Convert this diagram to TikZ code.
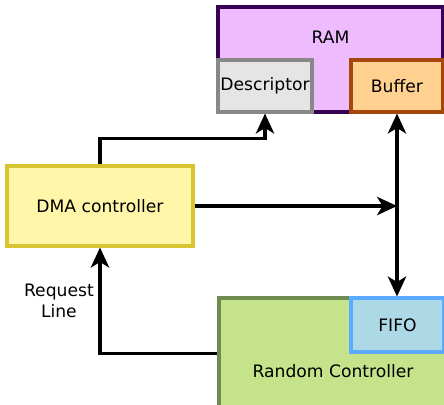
\documentclass[tikz,border=0pt]{standalone}
\usepackage{fontspec}
\setmainfont{DejaVu Sans}
\usetikzlibrary{arrows.meta}

\definecolor{ramfill}{RGB}{238,187,255}
\definecolor{ramdraw}{RGB}{55,0,85}
\definecolor{descfill}{RGB}{229,229,229}
\definecolor{descdraw}{RGB}{136,136,136}
\definecolor{buffill}{RGB}{255,209,145}
\definecolor{bufdraw}{RGB}{165,70,10}
\definecolor{dmafill}{RGB}{255,246,170}
\definecolor{dmadraw}{RGB}{215,198,50}
\definecolor{rcfill}{RGB}{197,227,138}
\definecolor{rcdraw}{RGB}{110,140,80}
\definecolor{fifofill}{RGB}{173,216,230}
\definecolor{fifodraw}{RGB}{90,170,255}

\begin{document}
\begin{tikzpicture}[x=0.025cm,y=-0.025cm,>={Stealth[length=5mm,width=4.6mm,inset=1.4mm]},
  font=\fontsize{12.2}{15}\selectfont,
  blk/.style={draw,line width=2.2pt,inner sep=0pt},
  link/.style={line width=2.2pt}]
\clip (0,0) rectangle (444,404);
\node[blk,draw=ramdraw,fill=ramfill,minimum width=5.625cm,minimum height=2.625cm,label={[anchor=center,yshift=-0.8cm]north:RAM}] (ram) at (330.5,59.5) {};
\node[blk,draw=descdraw,fill=descfill,minimum width=2.35cm,minimum height=1.3cm] (desc) at (265,86) {Descriptor};
\node[blk,draw=bufdraw,fill=buffill,minimum width=2.3cm,minimum height=1.3cm] (buf) at (397,86) {Buffer};
\node[blk,draw=dmadraw,fill=dmafill,minimum width=4.65cm,minimum height=2.0cm] (dma) at (100,206) {DMA controller};
\node[blk,draw=rcdraw,fill=rcfill,minimum width=5.7cm,minimum height=2.8cm,label={[anchor=center,yshift=-1.875cm]north:Random Controller}] (rc) at (333,354) {};
\node[blk,draw=fifodraw,fill=fifofill,minimum width=2.325cm,minimum height=1.35cm] (fifo) at (397.5,325) {FIFO};
\draw[link,->] (dma.north) -- ++(0,-26) -| (desc.south);
\draw[link,<->] (buf.south) -- (buf.south |- fifo.north);
\draw[link,->] (dma.east) -- (dma.east -| buf.south);
\draw[link,->] (rc.west |- fifo.south) -| node[pos=0.75,left,align=center] {Request\\Line} (dma.south);
\end{tikzpicture}
\end{document}
